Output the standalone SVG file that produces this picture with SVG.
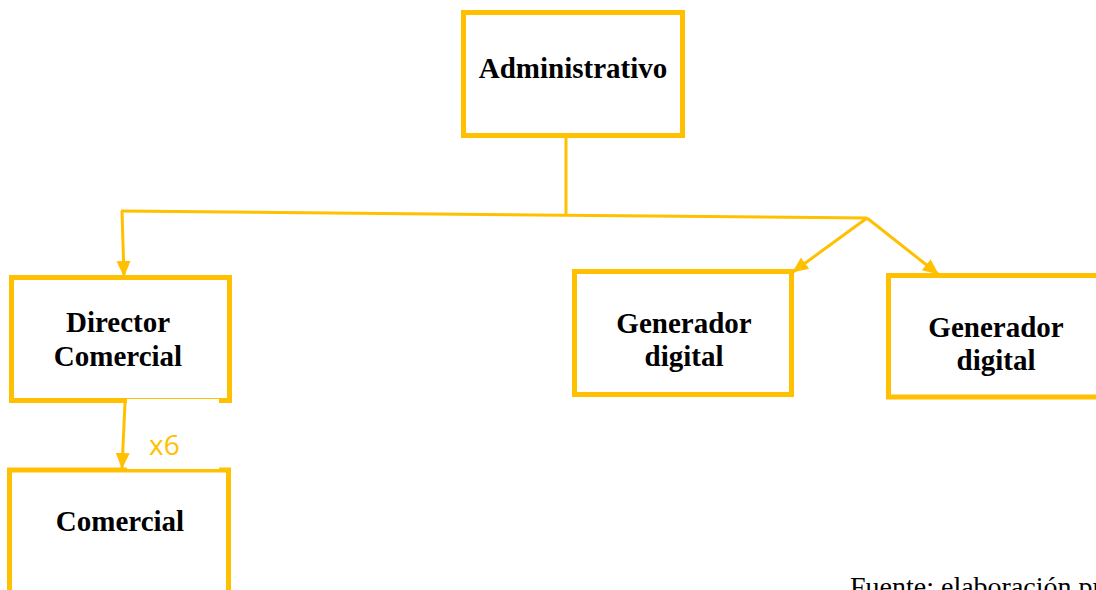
<svg xmlns="http://www.w3.org/2000/svg" width="1096" height="590" viewBox="0 0 1096 590">
  <style>
    .box { fill: #ffffff; stroke: #FFC000; stroke-width: 5; }
    .lbl { font-family: "Liberation Serif", "Times New Roman", serif; font-weight: bold; font-size: 29px; fill: #000000; text-anchor: middle; }
    .conn { stroke: #FFC000; stroke-width: 3; fill: none; }
    .note { font-family: "Liberation Serif", "Times New Roman", serif; font-size: 28px; fill: #000000; }
    .mult { font-family: "Open Sans", "Noto Sans", sans-serif; font-size: 28px; fill: #FFC000; }
  </style>
  <defs>
    <marker id="arr" markerUnits="userSpaceOnUse" markerWidth="16" markerHeight="16" viewBox="0 0 16 16" refX="15" refY="8" orient="auto">
      <path d="M0,1 L16,8 L0,15 Z" fill="#FFC000"/>
    </marker>
  </defs>
  <rect width="1096" height="590" fill="#ffffff"/>

  <g id="admin">
    <rect class="box" x="463.5" y="12.5" width="219" height="123"/>
    <text class="lbl" x="573" y="78">Administrativo</text>
  </g>

  <g id="director">
    <rect class="box" x="11.5" y="277.5" width="218" height="123"/>
    <text class="lbl" x="118" y="332">Director</text>
    <text class="lbl" x="118" y="366">Comercial</text>
  </g>

  <g id="comercial">
    <rect class="box" x="9.5" y="470" width="219" height="140"/>
    <text class="lbl" x="120" y="531">Comercial</text>
  </g>

  <g id="gen1">
    <rect class="box" x="574.5" y="271.5" width="217" height="123"/>
    <text class="lbl" x="684" y="333">Generador</text>
    <text class="lbl" x="684" y="366">digital</text>
  </g>

  <g id="gen2">
    <rect class="box" x="888.5" y="275.5" width="230" height="121.5"/>
    <text class="lbl" x="996" y="337">Generador</text>
    <text class="lbl" x="996" y="370">digital</text>
  </g>

  <g id="mult-label">
    <rect x="127" y="399" width="92" height="70" fill="#ffffff"/>
    <text class="mult" x="149" y="455">x6</text>
  </g>

  <g id="connectors">
    <line class="conn" x1="566" y1="138" x2="566" y2="214"/>
    <line class="conn" x1="121" y1="211" x2="867" y2="218"/>
    <line class="conn" x1="122" y1="211" x2="124" y2="276" marker-end="url(#arr)"/>
    <line class="conn" x1="867" y1="218" x2="793" y2="272" marker-end="url(#arr)"/>
    <line class="conn" x1="867" y1="218" x2="938" y2="274" marker-end="url(#arr)"/>
    <line class="conn" x1="125" y1="403" x2="122" y2="468" marker-end="url(#arr)"/>
  </g>

  <text class="note" x="850" y="596">Fuente: elaboración propia</text>
</svg>
